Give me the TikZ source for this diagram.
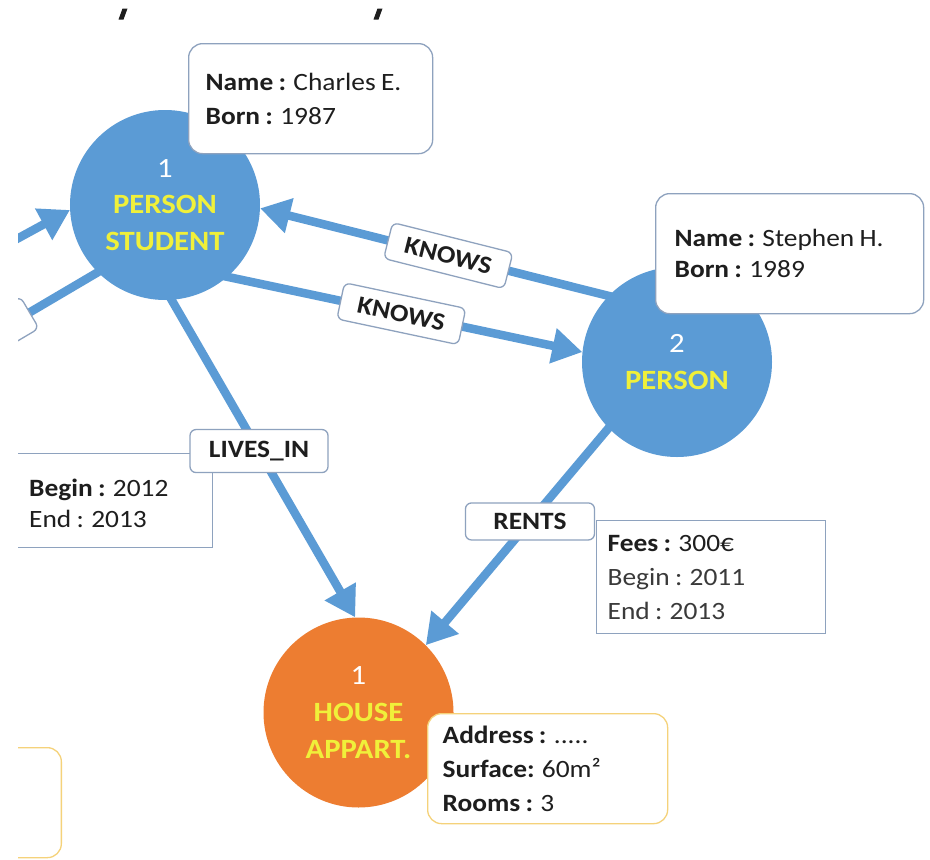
\documentclass[tikz,border=0pt]{standalone}
\usepackage{fontspec}
\setmainfont{Carlito}[FakeStretch=1.1, WordSpace=0.85]
\usetikzlibrary{arrows.meta}

\definecolor{nodeblue}{HTML}{5B9BD5}
\definecolor{nodeorange}{HTML}{ED7D31}
\definecolor{kindyellow}{HTML}{F0F03A}
\definecolor{boxedge}{HTML}{8EA2BE}
\definecolor{boxyellow}{HTML}{F5D27A}
\definecolor{inkgrey}{HTML}{1E1E1E}
\definecolor{softgrey}{HTML}{3A3A3A}

\newcommand{\entnum}[1]{{\color{white}#1}}
\newcommand{\entkind}[1]{{\bfseries\color{kindyellow}#1}}

\tikzset{
  entity/.style={circle, minimum size=190bp, inner sep=0pt, align=center,
    font=\fontsize{28}{37}\selectfont},
  person/.style={entity, fill=nodeblue},
  place/.style={entity, fill=nodeorange},
  rel/.style={draw=nodeblue, line width=8.5bp, shorten <=-6bp,
    -{Triangle[length=30bp,width=34bp]}},
  reltail/.style={draw=nodeblue, line width=8.5bp, shorten <=-6bp},
  tag/.style={draw=boxedge, line width=1.3bp, fill=white, rounded corners=6bp,
    font=\fontsize{25}{30}\bfseries\selectfont, text=inkgrey, inner sep=0pt,
    minimum height=37bp},
  props/.style={draw=boxedge, line width=1.3bp, fill=white, align=flush left,
    text=inkgrey, font=\fontsize{25}{34}\selectfont, inner ysep=0pt},
  rprops/.style={props, rounded corners=14bp},
  proptext/.style={align=flush left, text=inkgrey, font=\fontsize{25}{31}\selectfont,
    inner sep=0pt},
}

\begin{document}
\begin{tikzpicture}[x=1bp,y=-1bp]
\useasboundingbox (0,0) rectangle (930,860);
\fill[white] (0,0) rectangle (930,860);

% fragments of the heading line above
\fill[inkgrey] (118.5,19.5) -- (123.5,19.5) -- (127.5,8.5) -- (122.5,8.5) -- cycle;
\fill[inkgrey] (373.5,19.5) -- (378.5,19.5) -- (382.5,8.5) -- (377.5,8.5) -- cycle;

\begin{scope}
\clip (18,0) rectangle (930,860);

% entities
\node[person] (n1) at (165,205) {\entnum{1}\\ \entkind{PERSON}\\ \entkind{STUDENT}};
\node[person] (n2) at (677,362) {\entnum{2}\\ \entkind{PERSON}};
\node[place] (house) at (358.5,712.5) {\entnum{1}\\ \entkind{HOUSE}\\ \entkind{APPART.}};

% property boxes
\node[rprops, anchor=north west, minimum width=244bp, minimum height=110bp,
  text width=210bp, inner xsep=17bp] (charles) at (188,43)
  {\textbf{Name :} Charles E.\\ \textbf{Born :} 1987};
\node[rprops, anchor=north west, minimum width=268bp, minimum height=120bp,
  text width=230bp, inner xsep=19bp] (stephen) at (655,193)
  {\textbf{Name :} Stephen H.\\[-3bp] \textbf{Born :} 1989};
\node[rprops, draw=boxyellow, anchor=north west, minimum width=240bp,
  minimum height=110bp, text width=210bp, inner xsep=15bp] (address) at (427,713)
  {\textbf{Address :} .....\\ \textbf{Surface:} 60m²\\ \textbf{Rooms :} 3};
\node[props, anchor=north west, minimum width=229bp, minimum height=113bp,
  text width=207bp, inner xsep=11bp] (rentprops) at (596,520)
  {\textbf{Fees :} 300€\\ {\color{softgrey}Begin : 2011}\\ {\color{softgrey}End : 2013}};
\node[props, anchor=north east, minimum width=243bp, minimum height=94bp]
  (liveprops) at (213,453) {};
\node[proptext, anchor=west] (livetext) at (29,503)
  {\textbf{Begin :} 2012\\ End : 2013};
\node[rprops, draw=boxyellow, anchor=north east, minimum width=160bp,
  minimum height=110bp] (leftbox) at (62,747) {};

% relationships
\coordinate (in1) at (-40,270);
\coordinate (out1) at (-80,377);
\draw[rel] (in1) -- (n1.183);
\draw[reltail] (n1.-135) -- node[tag, sloped, pos=0.65, minimum width=110bp] (lcut) {} (out1);
\draw[rel] (n2.136) -- node[tag, sloped, pos=0.46, minimum width=124bp] (knows1) {KNOWS} (n1.-2);
\draw[rel] (n1.-49) -- node[tag, sloped, pos=0.49, minimum width=124bp] (knows2) {KNOWS} (n2.174);
\draw[rel] (n1.-86) -- node[tag, pos=0.476, minimum width=138bp, minimum height=43bp] (livesin) {LIVES\_IN} (house.92);
\draw[rel] (n2.-136) -- node[tag, pos=0.43, minimum width=129bp] (rents) {RENTS} (house.45);
\end{scope}
\end{tikzpicture}
\end{document}
